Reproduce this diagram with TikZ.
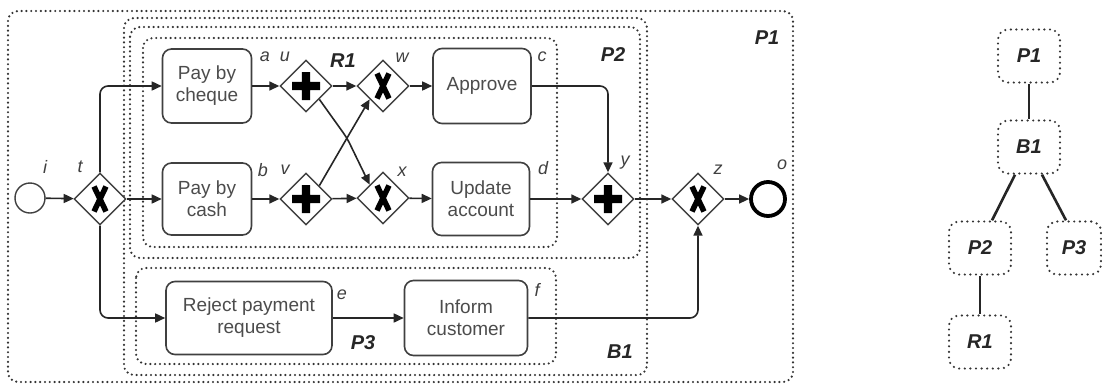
\documentclass[tikz,border=0pt]{standalone}
\usepackage{fontspec}
\setmainfont{Liberation Sans}
\usetikzlibrary{shapes.geometric,arrows.meta,calc}

\tikzset{
  task/.style={draw=black!75, line width=1.6pt, rounded corners=9pt, align=center,
    font=\fontsize{19}{22}\selectfont, text=black!70, inner sep=0pt, fill=white},
  gw/.style={diamond, draw=black!75, line width=1.4pt, minimum width=52pt,
    minimum height=52pt, inner sep=0pt, fill=white},
  flow/.style={draw=black!85, line width=1.6pt, rounded corners=8pt,
    -{Triangle[length=10pt,width=9pt]}},
  region/.style={draw=black!80, line width=2.4pt, dash pattern=on 0pt off 4.8pt,
    line cap=round, rounded corners=10pt},
  lbl/.style={font=\fontsize{18}{18}\selectfont\itshape, text=black!75, inner sep=0pt},
  rlbl/.style={font=\fontsize{20}{20}\selectfont\bfseries\itshape, text=black!85, inner sep=0pt},
  treebox/.style={region, dash pattern=on 0pt off 5.6pt, minimum width=62pt,
    minimum height=53pt, inner sep=0pt,
    font=\fontsize{20}{20}\selectfont\bfseries\itshape, text=black!85},
  treeedge/.style={draw=black!85, line width=2.6pt},
  xormark/.pic={\draw[black, line width=5.5pt] (-6,-12.5) -- (6,12.5) (6,-12.5) -- (-6,12.5);},
  andmark/.pic={\fill[black] (-14,-4.2) rectangle (14,4.2) (-4.2,-14) rectangle (4.2,14);},
}

\begin{document}
\begin{tikzpicture}[x=1pt, y=-1pt]
\useasboundingbox[fill=white] (0,0) rectangle (1102,389);

% nested process regions
\draw[region] (8,11) rectangle (793,382);
\draw[region] (124,18) rectangle (647,375);
\draw[region] (130,27) rectangle (640,258);
\draw[region] (143,38) rectangle (557,247);
\draw[region] (136,268) rectangle (556,364);

\node[rlbl] (lP1) at (767,38) {P1};
\node[rlbl] (lB1) at (620,352) {B1};
\node[rlbl] (lP2) at (613,55) {P2};
\node[rlbl] (lR1) at (343,61) {R1};
\node[rlbl] (lP3) at (363,343) {P3};

% events
\node[circle, draw=black!75, line width=1.4pt, minimum size=30pt, inner sep=0pt, fill=white] (i) at (30,198) {};
\node[circle, draw=black, line width=3.8pt, minimum size=34pt, inner sep=0pt, fill=white] (o) at (768,199) {};

% tasks
\node[task, minimum width=89pt, minimum height=74pt] (cheque) at (207,86) {Pay by\\cheque};
\node[task, minimum width=89pt, minimum height=72pt] (cash) at (207,199) {Pay by\\cash};
\node[task, minimum width=166pt, minimum height=73pt] (reject) at (249,318) {Reject payment\\request};
\node[task, minimum width=98pt, minimum height=75pt] (approve) at (482,86) {Approve};
\node[task, minimum width=97pt, minimum height=73pt] (update) at (481,199) {Update\\account};
\node[task, minimum width=123pt, minimum height=75pt] (inform) at (466,318) {Inform\\customer};

% gateways
\node[gw] (t) at (100,199) {};
\node[gw] (u) at (306,86) {};
\node[gw] (v) at (306,199) {};
\node[gw] (w) at (383,86) {};
\node[gw] (x) at (383,198) {};
\node[gw] (y) at (608,199) {};
\node[gw] (z) at (698,199) {};
\pic at (t) {xormark};
\pic at (w) {xormark};
\pic at (x) {xormark};
\pic at (z) {xormark};
\pic at (u) {andmark};
\pic at (v) {andmark};
\pic at (y) {andmark};

% element labels
\node[lbl] (li) at (45,167) {i};
\node[lbl] (lt) at (80,167) {t};
\node[lbl] (la) at (265,57) {a};
\node[lbl] (lu) at (285,57) {u};
\node[lbl] (lb) at (263,170) {b};
\node[lbl] (lv) at (285,170) {v};
\node[lbl] (lw) at (402,58) {w};
\node[lbl] (lx) at (402,172) {x};
\node[lbl] (lc) at (542,57) {c};
\node[lbl] (ld) at (543,168) {d};
\node[lbl] (ly) at (625,163) {y};
\node[lbl] (lz) at (718,170) {z};
\node[lbl] (lo) at (782,165) {o};
\node[lbl] (le) at (342,295) {e};
\node[lbl] (lf) at (537,290) {f};

% sequence flows
\coordinate (cross) at (347,138);
\draw[flow] (i) -- (t);
\draw[flow] (t.north) |- (cheque.west);
\draw[flow] (t.east) -- (cash.west);
\draw[flow] (t.south) |- (reject.west);
\draw[flow] (cheque) -- (u);
\draw[flow] (cash) -- (v);
\draw[flow] (u) -- (w);
\draw[flow] (v) -- (x);
\draw[flow, rounded corners=6pt] (u.south east) -- (cross) -- (x.north west);
\draw[flow, rounded corners=6pt] (v.north east) -- (cross) -- (w.south west);
\draw[flow] (w) -- (approve);
\draw[flow] (x) -- (update);
\draw[flow] (approve.east) -| (y.north);
\draw[flow] (update) -- (y);
\draw[flow] (y) -- (z);
\draw[flow] (z) -- (o);
\draw[flow] (reject) -- (inform);
\draw[flow] (inform.east) -| (z.south);

% fragment tree
\node[treebox] (tP1) at (1029,56) {P1};
\node[treebox] (tB1) at (1029,147) {B1};
\node[treebox] (tP2) at (980,248) {P2};
\node[treebox, minimum width=54pt] (tP3) at (1074,248) {P3};
\node[treebox] (tR1) at (980,342) {R1};
\draw[treeedge] (tP1) -- (tB1);
\draw[treeedge] ([xshift=-14pt]tB1.south) -- ([xshift=12pt]tP2.north);
\draw[treeedge] ([xshift=13pt]tB1.south) -- ([xshift=-8pt]tP3.north);
\draw[treeedge] (tP2) -- (tR1);
\end{tikzpicture}
\end{document}
